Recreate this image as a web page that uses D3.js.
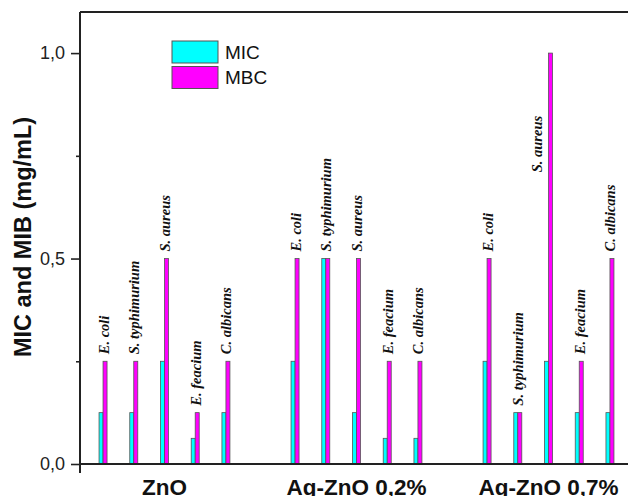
<script src="https://cdnjs.cloudflare.com/ajax/libs/d3/7.8.5/d3.min.js"></script>
<style>
  body { margin: 0; background: #fff; }
</style>

<div id="graph"></div>

<script>

// Data (mg/mL)
  var groups = ['ZnO', 'Ag-ZnO 0,2%', 'Ag-ZnO 0,7%']
  var strains = ['E. coli', 'S. typhimurium', 'S. aureus', 'E. feacium', 'C. albicans']
  var micValues = [
    [0.125, 0.125, 0.25, 0.0625, 0.125],
    [0.25, 0.5, 0.125, 0.0625, 0.0625],
    [0.25, 0.125, 0.25, 0.125, 0.125]
  ]
  var mbcValues = [
    [0.25, 0.25, 0.5, 0.125, 0.25],
    [0.5, 0.5, 0.5, 0.25, 0.25],
    [0.5, 0.125, 1.0, 0.25, 0.5]
  ]
  var yTicks = [0, 0.5, 1.0]
  var yMinorTicks = [0.25, 0.75]
  var seriesNames = ['MIC', 'MBC']
  var seriesColors = ['#00FFFF', '#FF00FF']

// Flatten into one row per group/strain
  var rows = []
  groups.forEach(function(g, gi) {
    strains.forEach(function(s, si) {
      rows.push({group: g, strain: s, mic: micValues[gi][si], mbc: mbcValues[gi][si]})
    })
  })

  var W = 628, H = 496
  var margin = {top: 12, left: 80}
  var plotBottom = 464

  var svg = d3.select('#graph')
      .append('svg')
      .attr('width', W)
      .attr('height', H)

// Scales
  var x = d3.scaleBand()
      .domain(groups)
      .range([margin.left, 633])
      .paddingInner(0.2)
      .paddingOuter(0.04)

  var xIn = d3.scaleBand()
      .domain(strains)
      .range([0, x.bandwidth()])

  var y = d3.scaleLinear()
      .domain([0, 1.1])
      .range([plotBottom, margin.top])

  var barW = 4
  function center(d) { return x(d.group) + xIn(d.strain) + xIn.bandwidth() / 2 }

// Bars
  var bars = svg.append('g')

  bars.selectAll('.mic')
    .data(rows)
    .join('rect')
      .attr('class', 'mic')
      .attr('x', function(d) { return center(d) - barW })
      .attr('y', function(d) { return y(d.mic) })
      .attr('width', barW)
      .attr('height', function(d) { return y(0) - y(d.mic) })
      .attr('fill', seriesColors[0])
      .attr('stroke', '#555')
      .attr('stroke-width', 0.8)

  bars.selectAll('.mbc')
    .data(rows)
    .join('rect')
      .attr('class', 'mbc')
      .attr('x', function(d) { return center(d) })
      .attr('y', function(d) { return y(d.mbc) })
      .attr('width', barW)
      .attr('height', function(d) { return y(0) - y(d.mbc) })
      .attr('fill', seriesColors[1])
      .attr('stroke', '#555')
      .attr('stroke-width', 0.8)

// Strain labels above each pair (the tallest one sits beside its bar)
  var maxMbc = d3.max(rows, function(d) { return d.mbc })
  svg.append('g')
    .selectAll('text')
    .data(rows)
    .join('text')
      .attr('transform', function(d) {
        if (d.mbc === maxMbc) return 'translate(' + (center(d) - 6.5) + ',' + y(0.71) + ') rotate(-90)'
        return 'translate(' + (center(d) + 5.5) + ',' + (y(d.mbc) - 7) + ') rotate(-90)'
      })
      .attr('font-family', '"Liberation Serif", "Times New Roman", serif')
      .attr('font-style', 'italic')
      .attr('font-weight', 'bold')
      .attr('font-size', '14.5px')
      .attr('fill', '#111')
      .text(function(d) { return d.strain })

// Y axis
  var fmt = function(d) { return d3.format('.1f')(d).replace('.', ',') }

  var yAxis = svg.append('g')
      .attr('transform', 'translate(' + margin.left + ',0)')
      .call(d3.axisLeft(y).tickValues(yTicks).tickFormat(fmt).tickSize(9).tickPadding(6).tickSizeOuter(0))

  yAxis.select('.domain').remove()
  yAxis.selectAll('line').attr('stroke', '#222').attr('stroke-width', 1.6)
  yAxis.selectAll('text')
      .attr('font-family', 'Arial, "Liberation Sans", sans-serif')
      .attr('font-size', '18px')
      .attr('fill', '#222')

  svg.append('g')
      .attr('transform', 'translate(' + margin.left + ',0)')
      .call(d3.axisLeft(y).tickValues(yMinorTicks).tickFormat('').tickSize(4).tickSizeOuter(0))
      .call(function(g) { g.select('.domain').remove() })
      .selectAll('line').attr('stroke', '#222').attr('stroke-width', 1.6)

// Frame: left axis, bottom axis, top border
  svg.append('line')
      .attr('x1', margin.left).attr('x2', margin.left)
      .attr('y1', margin.top).attr('y2', plotBottom + 9)
      .attr('stroke', '#222').attr('stroke-width', 2)

  svg.append('line')
      .attr('x1', margin.left).attr('x2', W)
      .attr('y1', plotBottom).attr('y2', plotBottom)
      .attr('stroke', '#222').attr('stroke-width', 2)

  svg.append('line')
      .attr('x1', margin.left).attr('x2', W)
      .attr('y1', margin.top).attr('y2', margin.top)
      .attr('stroke', '#222').attr('stroke-width', 2)

// Group labels
  svg.append('g')
    .selectAll('text')
    .data(groups)
    .join('text')
      .attr('x', function(d) { return x(d) + x.bandwidth() / 2 })
      .attr('y', 495)
      .attr('text-anchor', 'middle')
      .attr('font-family', 'Arial, "Liberation Sans", sans-serif')
      .attr('font-weight', 'bold')
      .attr('font-size', '22.5px')
      .attr('fill', '#111')
      .text(function(d) { return d })

// Y axis title
  svg.append('text')
      .attr('transform', 'translate(31,237) rotate(-90)')
      .attr('text-anchor', 'middle')
      .attr('font-family', 'Arial, "Liberation Sans", sans-serif')
      .attr('font-weight', 'bold')
      .attr('font-size', '23.5px')
      .attr('fill', '#111')
      .text('MIC and MIB (mg/mL)')

// Legend
  var legend = svg.append('g')
      .attr('transform', 'translate(172,41)')

  legend.selectAll('rect')
    .data(seriesNames)
    .join('rect')
      .attr('x', 0)
      .attr('y', function(d, i) { return i * 25.5 })
      .attr('width', 46)
      .attr('height', 22)
      .attr('fill', function(d, i) { return seriesColors[i] })
      .attr('stroke', '#555')
      .attr('stroke-width', 1)

  legend.selectAll('text')
    .data(seriesNames)
    .join('text')
      .attr('x', 53)
      .attr('y', function(d, i) { return 17.5 + i * 25.5 })
      .attr('font-family', 'Arial, "Liberation Sans", sans-serif')
      .attr('font-size', '19px')
      .attr('fill', '#111')
      .text(function(d) { return d })

</script>
